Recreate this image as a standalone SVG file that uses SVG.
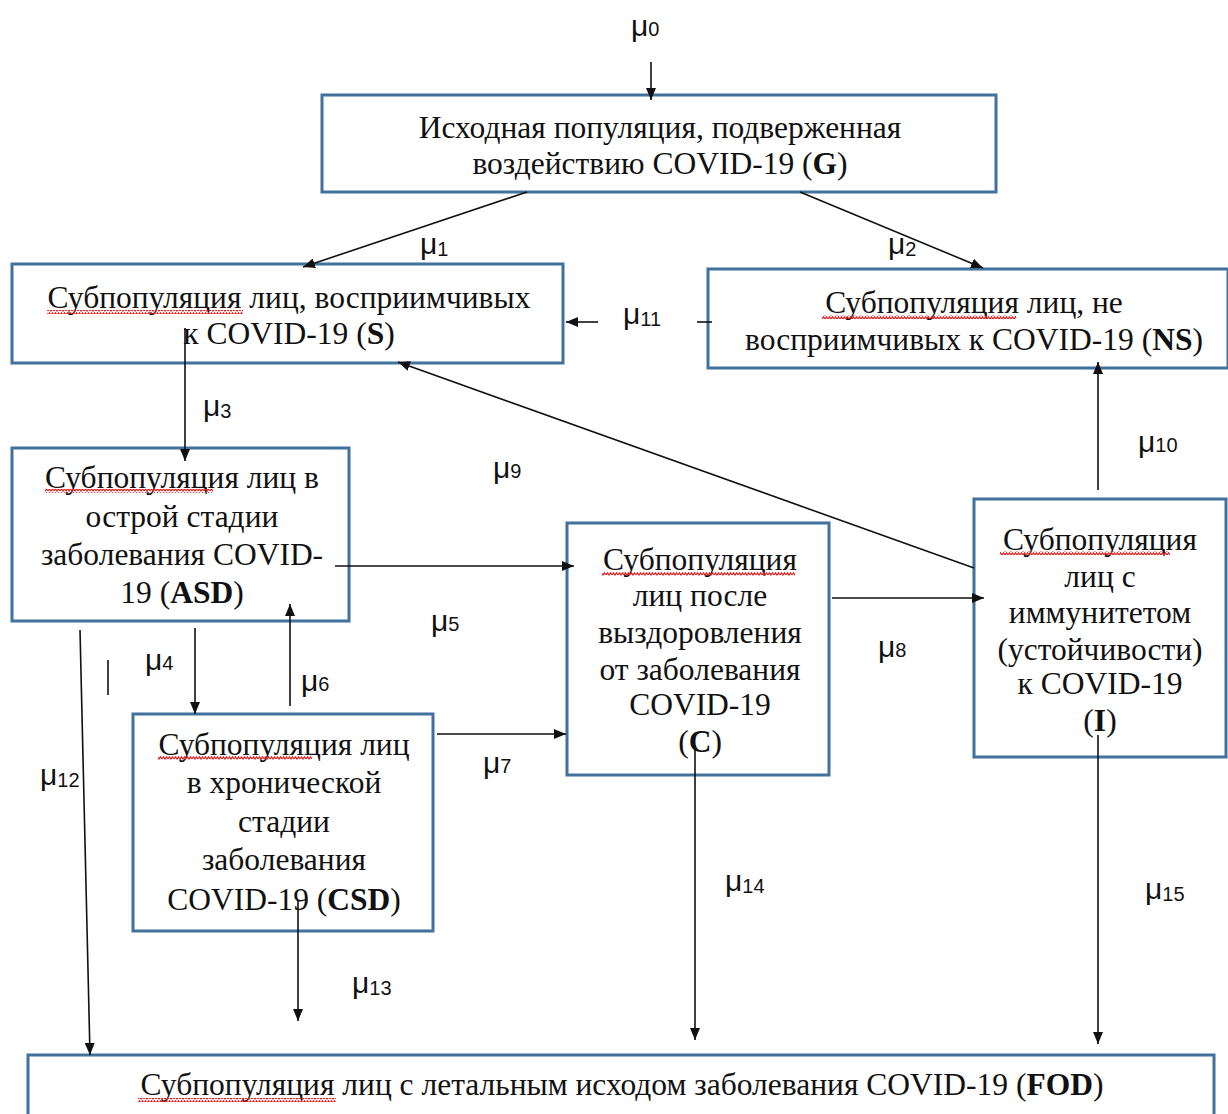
<svg xmlns="http://www.w3.org/2000/svg" width="1228" height="1114" viewBox="0 0 1228 1114">
<defs>
<style>
.box{fill:#fff;stroke:#41719c;stroke-width:3}
.t{font-family:"Liberation Serif","Times New Roman",serif;font-size:31.5px;fill:#111;text-anchor:middle}
.b{font-weight:bold}
.mu{font-family:"Liberation Sans",Arial,sans-serif;font-size:30px;fill:#111}
.sub{font-size:20px}
.ln{stroke:#111;stroke-width:1.6;fill:none}
.ar{stroke:#111;stroke-width:1.6;fill:none;marker-end:url(#ah)}
</style>
<marker id="ah" viewBox="0 0 12 10" refX="12" refY="5" markerWidth="12" markerHeight="10" markerUnits="userSpaceOnUse" orient="auto"><path d="M0,0 L12,5 L0,10 Z" fill="#111"/></marker>
<pattern id="wave" width="6" height="4" patternUnits="userSpaceOnUse"><path d="M0,3 L1.5,0.8 L3,3 L4.5,0.8 L6,3" stroke="#e02020" stroke-width="1.2" fill="none"/></pattern>
</defs>
<rect width="1228" height="1114" fill="#fff"/>

<g id="node-G">
<rect class="box" x="322" y="95" width="674" height="97"/>
<text class="t" x="660" y="138">Исходная популяция, подверженная</text>
<text class="t" x="660" y="174">воздействию COVID-19 (<tspan class="b">G</tspan>)</text>
</g>
<g id="node-S">
<rect class="box" x="12" y="264" width="551" height="99"/>
<text class="t" x="289" y="308">Субпопуляция лиц, восприимчивых</text>
<text class="t" x="289" y="344">к COVID-19 (<tspan class="b">S</tspan>)</text>
<rect x="47" y="310" width="196" height="4" fill="url(#wave)"/>
</g>
<g id="node-NS">
<rect class="box" x="708" y="269" width="520" height="99"/>
<text class="t" x="974" y="313">Субпопуляция лиц, не</text>
<text class="t" x="974" y="350">восприимчивых к COVID-19 (<tspan class="b">NS</tspan>)</text>
<rect x="822" y="315" width="194" height="4" fill="url(#wave)"/>
</g>
<g id="node-ASD">
<rect class="box" x="12" y="448" width="337" height="173"/>
<text class="t" x="182" y="488">Субпопуляция лиц в</text>
<text class="t" x="182" y="527">острой стадии</text>
<text class="t" x="182" y="565">заболевания COVID-</text>
<text class="t" x="182" y="603">19 (<tspan class="b">ASD</tspan>)</text>
<rect x="45" y="489" width="168" height="4" fill="url(#wave)"/>
</g>
<g id="node-CSD">
<rect class="box" x="133" y="714" width="300" height="217"/>
<text class="t" x="284" y="755">Субпопуляция лиц</text>
<text class="t" x="284" y="793">в хронической</text>
<text class="t" x="284" y="832">стадии</text>
<text class="t" x="284" y="870">заболевания</text>
<text class="t" x="284" y="910">COVID-19 (<tspan class="b">CSD</tspan>)</text>
<rect x="158" y="756" width="154" height="4" fill="url(#wave)"/>
</g>
<g id="node-C">
<rect class="box" x="567" y="523" width="262" height="252"/>
<text class="t" x="700" y="570">Субпопуляция</text>
<text class="t" x="700" y="606">лиц после</text>
<text class="t" x="700" y="643">выздоровления</text>
<text class="t" x="700" y="680">от заболевания</text>
<text class="t" x="700" y="715">COVID-19</text>
<text class="t" x="700" y="752">(<tspan class="b">C</tspan>)</text>
<rect x="602" y="572" width="193" height="4" fill="url(#wave)"/>
</g>
<g id="node-I">
<rect class="box" x="974" y="499" width="252" height="258"/>
<text class="t" x="1100" y="550">Субпопуляция</text>
<text class="t" x="1100" y="587">лиц с</text>
<text class="t" x="1100" y="623">иммунитетом</text>
<text class="t" x="1100" y="660">(устойчивости)</text>
<text class="t" x="1100" y="694">к COVID-19</text>
<text class="t" x="1100" y="731">(<tspan class="b">I</tspan>)</text>
<rect x="1000" y="551" width="170" height="4" fill="url(#wave)"/>
</g>
<g id="node-FOD">
<rect class="box" x="28" y="1055" width="1186" height="70"/>
<text class="t" x="622" y="1095">Субпопуляция лиц с летальным исходом заболевания COVID-19 (<tspan class="b">FOD</tspan>)</text>
<rect x="138" y="1098" width="198" height="4" fill="url(#wave)"/>
</g>

<g id="connectors">
<line class="ar" x1="651" y1="62" x2="651" y2="100"/>
<line class="ar" x1="527" y1="192" x2="303" y2="267"/>
<line class="ar" x1="800" y1="192" x2="983" y2="268"/>
<line class="ln" x1="697" y1="322" x2="712" y2="322"/>
<line class="ar" x1="598" y1="322" x2="566" y2="322"/>
<line class="ar" x1="185" y1="328" x2="185" y2="461"/>
<line class="ar" x1="974" y1="568" x2="398" y2="362"/>
<line class="ar" x1="335" y1="566" x2="574" y2="566"/>
<line class="ar" x1="195" y1="628" x2="195" y2="714"/>
<line class="ar" x1="290" y1="706" x2="290" y2="604"/>
<line class="ln" x1="108" y1="660" x2="108" y2="695"/>
<line class="ar" x1="80" y1="630" x2="90" y2="1055"/>
<line class="ar" x1="437" y1="734" x2="566" y2="734"/>
<line class="ar" x1="832" y1="598" x2="984" y2="598"/>
<line class="ar" x1="1098" y1="490" x2="1098" y2="362"/>
<line class="ar" x1="298" y1="900" x2="298" y2="1021"/>
<line class="ar" x1="695" y1="745" x2="695" y2="1040"/>
<line class="ar" x1="1098" y1="735" x2="1098" y2="1044"/>
</g>

<g id="labels">
<text class="mu" x="631" y="36">μ<tspan class="sub">0</tspan></text>
<text class="mu" x="420" y="254">μ<tspan class="sub" dy="2">1</tspan></text>
<text class="mu" x="888" y="254">μ<tspan class="sub" dy="2">2</tspan></text>
<text class="mu" x="623" y="324">μ<tspan class="sub" dy="2">11</tspan></text>
<text class="mu" x="203" y="416">μ<tspan class="sub" dy="2">3</tspan></text>
<text class="mu" x="493" y="478">μ<tspan class="sub">9</tspan></text>
<text class="mu" x="431" y="631">μ<tspan class="sub">5</tspan></text>
<text class="mu" x="145" y="670">μ<tspan class="sub">4</tspan></text>
<text class="mu" x="301" y="691">μ<tspan class="sub">6</tspan></text>
<text class="mu" x="40" y="785">μ<tspan class="sub" dy="2">12</tspan></text>
<text class="mu" x="483" y="773">μ<tspan class="sub">7</tspan></text>
<text class="mu" x="878" y="657">μ<tspan class="sub">8</tspan></text>
<text class="mu" x="1138" y="452">μ<tspan class="sub">10</tspan></text>
<text class="mu" x="352" y="993">μ<tspan class="sub" dy="2">13</tspan></text>
<text class="mu" x="725" y="891">μ<tspan class="sub" dy="2">14</tspan></text>
<text class="mu" x="1145" y="899">μ<tspan class="sub" dy="2">15</tspan></text>
</g>
</svg>
